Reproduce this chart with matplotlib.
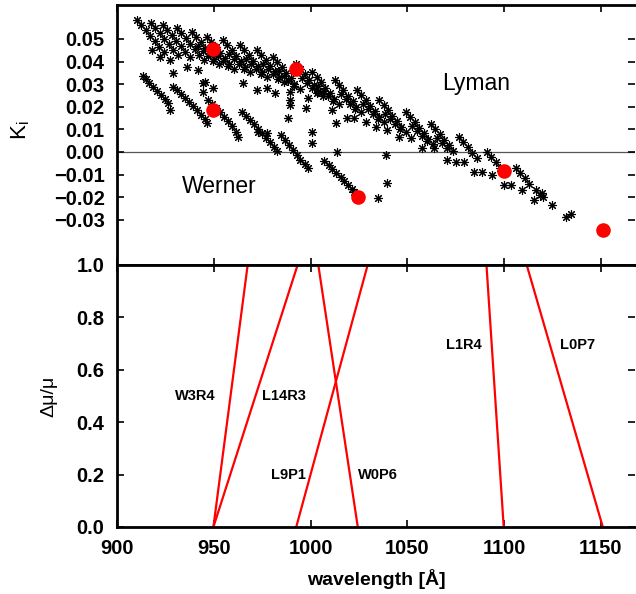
import matplotlib
matplotlib.use("Agg")
import matplotlib.pyplot as plt

# === DATA ===
# Lyman band streaks (wavelength [A], K_i)
lyman_lam = [
    910.3, 912.4, 914.9, 917.0, 919.6, 921.6, 924.2,
    917.5, 919.6, 922.1, 924.2, 926.8, 928.8, 931.4,
    923.7, 925.8, 928.3, 930.4, 933.0, 935.0, 937.6,
    930.9, 933.0, 935.5, 937.6, 940.2, 942.2, 944.8,
    938.7, 940.8, 943.3, 945.4, 948.0, 950.0, 952.6,
    946.4, 948.5, 951.0, 953.1, 955.7, 957.7, 960.3,
    954.6, 956.7, 959.2, 961.3, 963.9, 965.9, 968.5,
    963.4, 965.5, 968.0, 970.1, 972.7, 974.7, 977.3,
    972.2, 974.3, 976.8, 978.9, 981.5, 983.5, 986.1,
    980.4, 982.5, 985.0, 987.1, 989.7, 991.7, 994.3,
    992.3, 994.4, 996.9, 999.0, 1001.6, 1003.6, 1006.2,
    1001.0, 1003.1, 1005.6, 1007.7, 1010.3, 1012.3, 1014.9,
    1012.4, 1014.5, 1017.0, 1019.1, 1021.7, 1023.7, 1026.3,
    1024.2, 1026.3, 1028.8, 1030.9, 1033.5, 1035.5, 1038.1,
    1035.6, 1037.7, 1040.2, 1042.3, 1044.9, 1046.9, 1049.5,
    1049.5, 1051.6, 1054.1, 1056.2, 1058.8, 1060.8, 1063.4,
    1062.4, 1064.5, 1067.0, 1069.1, 1071.7, 1073.7,
    1076.8, 1078.9, 1081.4, 1083.5, 1086.1,
    1091.2, 1093.3, 1095.8, 1097.9,
    1106.2, 1108.3, 1110.8, 1112.9,
    1116.5, 1118.6, 1120.2,
]
lyman_k = [
    0.0584, 0.0562, 0.0540, 0.0513, 0.0491, 0.0465, 0.0442,
    0.0571, 0.0549, 0.0527, 0.0500, 0.0478, 0.0452, 0.0429,
    0.0562, 0.0540, 0.0518, 0.0491, 0.0469, 0.0443, 0.0420,
    0.0549, 0.0527, 0.0505, 0.0478, 0.0456, 0.0430, 0.0407,
    0.0531, 0.0509, 0.0487, 0.0460, 0.0438, 0.0412, 0.0389,
    0.0509, 0.0487, 0.0465, 0.0438, 0.0416, 0.0390, 0.0367,
    0.0496, 0.0474, 0.0452, 0.0425, 0.0403, 0.0377, 0.0354,
    0.0473, 0.0451, 0.0429, 0.0402, 0.0380, 0.0354, 0.0331,
    0.0451, 0.0429, 0.0407, 0.0380, 0.0358, 0.0332, 0.0309,
    0.0420, 0.0398, 0.0376, 0.0349, 0.0327, 0.0301, 0.0278,
    0.0389, 0.0367, 0.0345, 0.0318, 0.0296, 0.0270, 0.0247,
    0.0354, 0.0332, 0.0310, 0.0283, 0.0261, 0.0235, 0.0212,
    0.0319, 0.0297, 0.0275, 0.0248, 0.0226, 0.0200, 0.0177,
    0.0274, 0.0252, 0.0230, 0.0203, 0.0181, 0.0155, 0.0132,
    0.0230, 0.0208, 0.0186, 0.0159, 0.0137, 0.0111, 0.0088,
    0.0177, 0.0155, 0.0133, 0.0106, 0.0084, 0.0058, 0.0035,
    0.0124, 0.0102, 0.0080, 0.0053, 0.0031, 0.0005,
    0.0066, 0.0044, 0.0022, -0.0005, -0.0027,
    0.0000, -0.0022, -0.0044, -0.0071,
    -0.0071, -0.0093, -0.0115, -0.0142,
    -0.0168, -0.0190, -0.0199,
]

# second (lower) branch inside each Lyman band
branch_lam = [
    941.8, 944.4, 946.9, 949.5,
    949.5, 952.1, 954.6, 957.2,
    957.7, 960.3, 962.8, 965.4,
    966.5, 969.1, 971.6, 974.2,
    975.3, 977.9, 980.4, 983.0,
    983.5, 986.1, 988.6, 991.2,
    995.4, 998.0, 1000.5, 1003.1,
    1004.1, 1006.7, 1009.2, 1011.8,
    1015.5, 1018.1, 1020.6, 1023.2,
    1027.3, 1029.9, 1032.4, 1035.0,
    1038.7, 1041.3, 1043.8, 1046.4,
    1052.6, 1055.2, 1057.7, 1060.3,
    1065.5, 1068.1, 1070.6,
]
branch_k = [
    0.0469, 0.0447, 0.0425, 0.0403,
    0.0447, 0.0425, 0.0403, 0.0381,
    0.0434, 0.0412, 0.0390, 0.0368,
    0.0411, 0.0389, 0.0367, 0.0345,
    0.0389, 0.0367, 0.0345, 0.0323,
    0.0358, 0.0336, 0.0314, 0.0292,
    0.0327, 0.0305, 0.0283, 0.0261,
    0.0292, 0.0270, 0.0248, 0.0226,
    0.0257, 0.0235, 0.0213, 0.0191,
    0.0212, 0.0190, 0.0168, 0.0146,
    0.0168, 0.0146, 0.0124, 0.0102,
    0.0115, 0.0093, 0.0071, 0.0049,
    0.0062, 0.0040, 0.0018,
]

# sparse points below the Lyman streaks
sparse_lam = [918.0, 922.2, 927.3, 936.1, 941.8, 928.9, 945.4, 949.5, 944.3, 965.0,
              972.2, 977.3, 981.4, 989.2, 989.2, 989.2, 997.9, 988.2, 998.5, 1003.6,
              1011.3, 1013.4, 1001.0, 1001.0, 1018.6, 1022.7, 1028.9, 1034.0, 1039.7, 1045.9,
              1052.1, 1057.7, 1063.9, 1013.9, 1039.2, 1070.6, 1075.3, 1079.4, 1084.6, 1088.7,
              1093.8, 1100.0, 1103.6, 1109.3, 1115.5, 1119.6, 1124.8, 1132.0, 1134.6, 1039.7,
              1035.1, 944.3, 927.3]
sparse_k = [0.0451, 0.0420, 0.0407, 0.0376, 0.0363, 0.0350, 0.0310, 0.0283, 0.0265, 0.0305,
            0.0274, 0.0283, 0.0261, 0.0265, 0.0230, 0.0208, 0.0195, 0.0150, 0.0239, 0.0265,
            0.0186, 0.0128, 0.0088, 0.0040, 0.0150, 0.0150, 0.0133, 0.0111, 0.0097, 0.0066,
            0.0062, 0.0018, 0.0018, 0.0000, -0.0013, -0.0035, -0.0044, -0.0044, -0.0088, -0.0088,
            -0.0102, -0.0146, -0.0146, -0.0168, -0.0212, -0.0181, -0.0235, -0.0288, -0.0274, -0.0137,
            -0.0204, 0.0305, 0.0186]

# Werner band streaks
werner_lam = [
    913.4, 915.0, 916.5, 918.6, 920.6, 922.7, 924.7, 926.3,
    928.9, 930.9, 933.0, 935.1, 937.1, 939.2, 941.3, 943.3, 945.4, 946.4,
    946.9, 949.0, 951.0, 953.1, 955.2, 957.2, 959.3, 961.3, 962.4,
    964.4, 966.5, 968.6, 970.6, 972.7, 974.7, 976.8, 978.9, 980.9, 982.5, 972.7, 977.3,
    984.5, 986.6, 988.7, 990.7, 992.8, 994.8, 996.9, 998.5,
    1007.2, 1009.3, 1011.3, 1013.4, 1015.5, 1017.5, 1019.6, 1021.2, 1022.2,
]
werner_k = [
    0.0336, 0.0323, 0.0305, 0.0288, 0.0270, 0.0252, 0.0235, 0.0217,
    0.0288, 0.0274, 0.0257, 0.0239, 0.0221, 0.0204, 0.0186, 0.0164, 0.0146, 0.0128,
    0.0230, 0.0212, 0.0195, 0.0177, 0.0155, 0.0137, 0.0115, 0.0088, 0.0066,
    0.0177, 0.0159, 0.0142, 0.0124, 0.0102, 0.0084, 0.0062, 0.0044, 0.0022, 0.0004, 0.0088, 0.0084,
    0.0075, 0.0053, 0.0031, 0.0009, -0.0013, -0.0035, -0.0053, -0.0071,
    -0.0040, -0.0058, -0.0075, -0.0093, -0.0111, -0.0128, -0.0146, -0.0164, -0.0177,
]

# selected transitions
trans_names = ["W3R4", "L14R3", "L9P1", "W0P6", "L1R4", "L0P7"]
trans_lam = [949.8, 949.8, 992.6, 1024.4, 1099.8, 1151.0]
trans_k = [0.0186, 0.0454, 0.0367, -0.0200, -0.0083, -0.0345]
trans_lam_top = [967.5, 993.3, 1029.5, 1004.0, 1090.9, 1111.7]  # wavelength at dmu/mu = 1
label_x = [940.5, 986.0, 988.7, 1035.0, 1079.0, 1138.0]
label_y = [0.50, 0.50, 0.20, 0.20, 0.695, 0.695]

# === FIGURE ===
plt.rcParams['font.family'] = ['Liberation Sans', 'DejaVu Sans']
plt.rcParams['mathtext.default'] = 'regular'

fig = plt.figure(figsize=(6.36, 5.94), dpi=100)
ax1 = fig.add_axes([0.184, 0.5539, 0.814, 0.4377])
ax2 = fig.add_axes([0.184, 0.1128, 0.814, 0.4411])

star = dict(marker=(8, 2, 0), ms=6.5, mew=0.8, color='black', ls='none')
ax1.plot(lyman_lam, lyman_k, **star)
ax1.plot(branch_lam, branch_k, **star)
ax1.plot(sparse_lam, sparse_k, **star)
ax1.plot(werner_lam, werner_k, **star)
ax1.plot(trans_lam, trans_k, 'o', color='#ff0000', ms=10.5, mew=0, zorder=5)
ax1.axhline(0, color='#555555', lw=0.9, zorder=0)
ax1.text(1085.4, 0.0304, "Lyman", fontsize=16.5, ha='center', va='center')
ax1.text(953, -0.0154, "Werner", fontsize=16.5, ha='center', va='center')

ax1.set_xlim(900, 1167.5)
ax1.set_ylim(-0.05, 0.065)
ax1.set_yticks([-0.03, -0.02, -0.01, 0.00, 0.01, 0.02, 0.03, 0.04, 0.05])
ax1.set_yticklabels([f"{v:.2f}".replace("-", "\u2212") for v in ax1.get_yticks()])
ax1.set_xticks([900, 950, 1000, 1050, 1100, 1150])
ax1.tick_params(labelbottom=False)
ax1.set_ylabel("K$_i$", fontsize=16)
ax1.yaxis.set_label_coords(-0.165, 0.52)

for i in range(len(trans_names)):
    ax2.plot([trans_lam[i], trans_lam_top[i]], [0, 1], color='#ff0000', lw=1.6)
    ax2.text(label_x[i], label_y[i], trans_names[i], fontsize=10.5, fontweight='bold',
             ha='center', va='center')

ax2.set_xlim(900, 1167.5)
ax2.set_ylim(0, 1.0)
ax2.set_xticks([900, 950, 1000, 1050, 1100, 1150])
ax2.set_yticks([0.0, 0.2, 0.4, 0.6, 0.8, 1.0])
ax2.set_yticklabels(["0.0", "0.2", "0.4", "0.6", "0.8", "1.0"])
ax2.set_xlabel("wavelength [Å]", fontsize=14, fontweight='bold')
ax2.set_ylabel("Δμ/μ", fontsize=14)
ax2.yaxis.set_label_coords(-0.115, 0.5)
ax2.xaxis.set_label_coords(0.5, -0.16)

for ax in (ax1, ax2):
    ax.tick_params(direction='in', length=5, width=1.2, top=True, right=True,
                   labelsize=14.5, pad=9)
    for lab in ax.get_xticklabels() + ax.get_yticklabels():
        lab.set_fontweight('bold')
    for s in ax.spines.values():
        s.set_linewidth(2.0)
    ax.spines['right'].set_visible(False)

fig.savefig("out.png", dpi=100)
